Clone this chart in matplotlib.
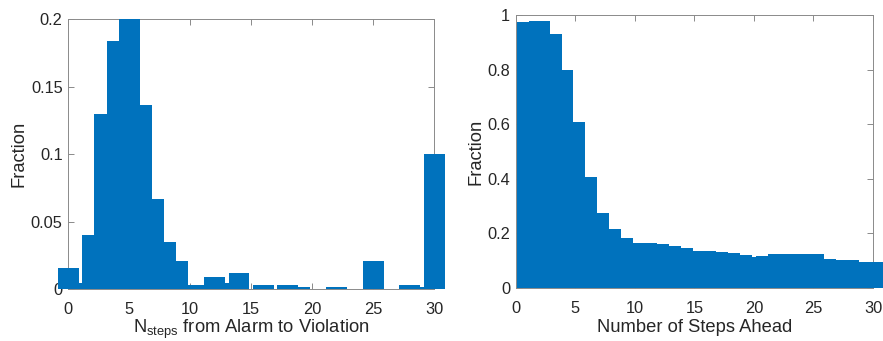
import numpy as np
import matplotlib
matplotlib.use("Agg")
import matplotlib.pyplot as plt

plt.rcParams['font.family'] = ['Liberation Sans', 'DejaVu Sans']
plt.rcParams['mathtext.fontset'] = 'custom'
plt.rcParams['mathtext.rm'] = 'Liberation Sans'
plt.rcParams['mathtext.it'] = 'Liberation Sans:italic'

# Left panel: N_steps from alarm to violation
left_steps = list(range(0, 31))
left_fraction = [0.0155, 0.005, 0.040, 0.1297, 0.184, 0.1998, 0.1366, 0.0666,
                 0.0348, 0.021, 0.0032, 0.0032, 0.0089, 0.0049, 0.0118, 0.0,
                 0.0032, 0.0, 0.0032, 0.0015, 0.0, 0.0, 0.0015, 0.0, 0.0,
                 0.021, 0.0, 0.0, 0.0032, 0.0017, 0.0999]

# Right panel: number of steps ahead
right_steps = list(range(1, 31))
right_fraction = [0.973, 0.978, 0.929, 0.797, 0.607, 0.408, 0.2735, 0.216,
                  0.184, 0.165, 0.165, 0.161, 0.153, 0.1465, 0.137, 0.137,
                  0.132, 0.130, 0.121, 0.115, 0.118, 0.123, 0.123, 0.125,
                  0.125, 0.105, 0.104, 0.101, 0.097, 0.097]

left_yticks = [0, 0.05, 0.1, 0.15, 0.2]
left_yticklabels = ['0', '0.05', '0.1', '0.15', '0.2']
right_yticks = [0, 0.2, 0.4, 0.6, 0.8, 1.0]
right_yticklabels = ['0', '0.2', '0.4', '0.6', '0.8', '1']
xticks = [0, 5, 10, 15, 20, 25, 30]

BAR = '#0072BD'
AX = '#262626'
SPINE = '#8a8a8a'

fig = plt.figure(figsize=(8.83, 3.41), dpi=100)
axL = fig.add_axes([0.0773, 0.1516, 0.4145, 0.7927])
axR = fig.add_axes([0.5840, 0.1554, 0.4047, 0.8006])


def style(ax):
    for s in ax.spines.values():
        s.set_color(SPINE)
        s.set_linewidth(0.7)
        s.set_zorder(0.5)
    ax.tick_params(direction='in', length=4, width=0.7, color=SPINE,
                   top=True, right=True, labelsize=11.8, labelcolor=AX)
    ax.tick_params(axis='x', pad=9.5)
    ax.tick_params(axis='y', pad=4)


axL.bar(left_steps, left_fraction, width=1.7, color=BAR, edgecolor='none',
        clip_on=False, zorder=2)
axL.set_xlim(0, 30)
axL.set_ylim(0, 0.2)
axL.set_xticks(xticks)
axL.set_yticks(left_yticks)
axL.set_yticklabels(left_yticklabels)
style(axL)
axL.set_ylabel('Fraction', fontsize=13.2, color=AX, labelpad=2.5)
axL.set_xlabel(r'N$_{\mathrm{steps}}$ from Alarm to Violation', fontsize=13.2,
               color=AX, labelpad=0)

axR.bar(right_steps, right_fraction, width=1.7, color=BAR, edgecolor='none',
        clip_on=False, zorder=2)
axR.set_xlim(0, 30)
axR.set_ylim(0, 1)
axR.set_xticks(xticks)
axR.set_yticks(right_yticks)
axR.set_yticklabels(right_yticklabels)
style(axR)
axR.set_ylabel('Fraction', fontsize=13.2, color=AX, labelpad=2)
axR.set_xlabel('Number of Steps Ahead', fontsize=13.2, color=AX, labelpad=2)

fig.savefig('out.png', dpi=100)
